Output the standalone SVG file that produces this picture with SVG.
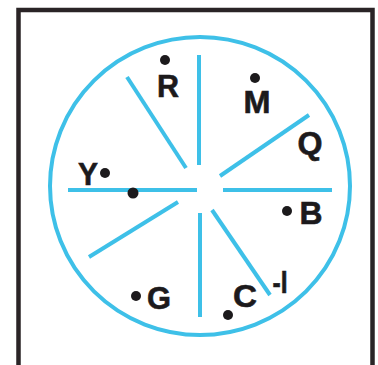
<svg xmlns="http://www.w3.org/2000/svg" width="378" height="365" viewBox="0 0 378 365">
  <style>
    .frame { fill: none; stroke: #2a2426; stroke-width: 4.5; }
    .ring { fill: none; stroke: #3ec0e8; stroke-width: 4; }
    .spoke { stroke: #3ec0e8; stroke-width: 4; stroke-linecap: butt; }
    .dot { fill: #1c1a1c; }
    .lbl { font-family: "Liberation Sans", Arial, sans-serif; font-weight: bold; font-size: 32px; fill: #1c1a1c; stroke: #1c1a1c; stroke-width: 0.6; }
  </style>
  <rect width="378" height="365" fill="#ffffff"/>
  <path class="frame" d="M18.5,370 V10 H372.5 V370"/>
  <g id="wheel">
    <ellipse class="ring" cx="200" cy="186" rx="150" ry="149"/>
  </g>
  <g id="connectors">
    <line class="spoke" x1="68" y1="190" x2="197" y2="190"/>
    <line class="spoke" x1="223" y1="190" x2="332" y2="190"/>
    <line class="spoke" x1="199" y1="55" x2="199" y2="165"/>
    <line class="spoke" x1="200" y1="213" x2="200" y2="317"/>
    <line class="spoke" x1="127" y1="77" x2="186" y2="168"/>
    <line class="spoke" x1="309" y1="115" x2="220" y2="176"/>
    <line class="spoke" x1="178" y1="202" x2="89" y2="257"/>
    <line class="spoke" x1="212" y1="210" x2="270" y2="295"/>
  </g>
  <g id="node-R">
    <circle class="dot" cx="165" cy="60" r="5"/>
    <text class="lbl" x="168" y="97" text-anchor="middle" textLength="22" lengthAdjust="spacingAndGlyphs">R</text>
  </g>
  <g id="node-M">
    <circle class="dot" cx="255" cy="78" r="5"/>
    <text class="lbl" x="257" y="113" text-anchor="middle" textLength="27" lengthAdjust="spacingAndGlyphs">M</text>
  </g>
  <g id="node-Q">
    <text class="lbl" x="310" y="154" text-anchor="middle" textLength="25" lengthAdjust="spacingAndGlyphs">Q</text>
  </g>
  <g id="node-Y">
    <circle class="dot" cx="105" cy="173" r="5"/>
    <text class="lbl" x="88" y="185" text-anchor="middle" textLength="20" lengthAdjust="spacingAndGlyphs">Y</text>
  </g>
  <g id="node-center-dot">
    <circle class="dot" cx="133" cy="193" r="5.5"/>
  </g>
  <g id="node-B">
    <circle class="dot" cx="287" cy="211" r="5"/>
    <text class="lbl" x="311" y="224" text-anchor="middle" textLength="23" lengthAdjust="spacingAndGlyphs">B</text>
  </g>
  <g id="node-G">
    <circle class="dot" cx="136" cy="296" r="5"/>
    <text class="lbl" x="159" y="309" text-anchor="middle" textLength="24" lengthAdjust="spacingAndGlyphs">G</text>
  </g>
  <g id="node-C">
    <circle class="dot" cx="228" cy="315" r="5"/>
    <text class="lbl" x="245" y="307" text-anchor="middle" textLength="24" lengthAdjust="spacingAndGlyphs">C</text>
  </g>
  <g id="node-I">
    <text class="lbl" x="280" y="293" text-anchor="middle" textLength="15" lengthAdjust="spacingAndGlyphs">-I</text>
  </g>
</svg>
